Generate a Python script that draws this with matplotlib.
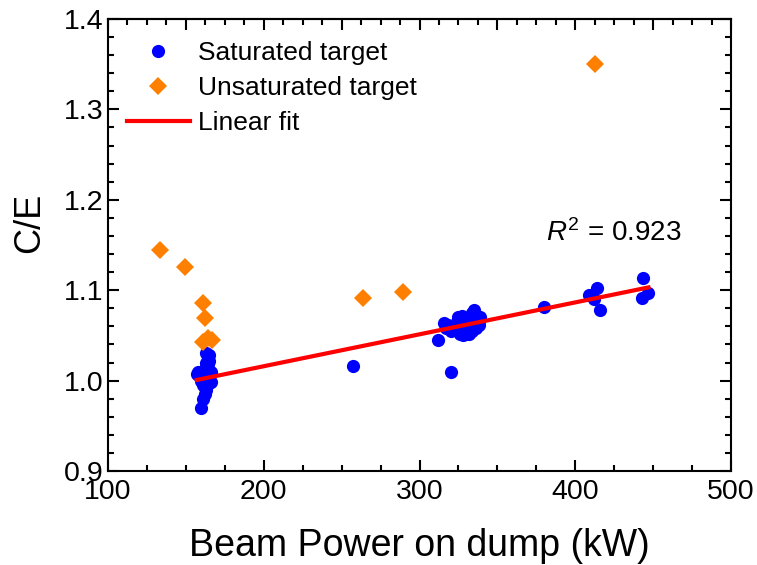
import matplotlib
matplotlib.use('Agg')
import matplotlib.pyplot as plt
from matplotlib.ticker import MultipleLocator

plt.rcParams['font.family'] = ['Liberation Sans', 'DejaVu Sans']
plt.rcParams['mathtext.fontset'] = 'custom'
plt.rcParams['mathtext.rm'] = 'Liberation Sans'
plt.rcParams['mathtext.it'] = 'Liberation Sans:italic'

# saturated target runs
sat_power = [157, 158, 159, 160, 161, 162, 163, 164, 165, 163, 164, 165, 166, 163,
             162, 161, 160, 164, 166, 165, 163, 162, 164,
             257, 320, 312,
             316, 317, 318, 320, 322, 324, 325, 326, 327, 328, 329, 330, 331, 332,
             333, 334, 335, 336, 337, 338, 336, 334, 332, 338, 339, 326, 328, 333,
             380, 409, 413.8, 416, 412, 443.7, 442.6, 446.9]
sat_ce = [1.007, 1.010, 1.004, 1.000, 0.995, 1.012, 1.020, 1.025, 1.028, 1.015, 1.008, 1.002, 0.998, 0.990,
          0.985, 0.980, 0.970, 1.018, 1.010, 1.022, 1.030, 0.993, 0.996,
          1.016, 1.010, 1.045,
          1.064, 1.058, 1.062, 1.055, 1.060, 1.065, 1.070, 1.068, 1.072, 1.060, 1.055, 1.052, 1.058, 1.065,
          1.070, 1.075, 1.078, 1.072, 1.068, 1.062, 1.058, 1.055, 1.052, 1.066, 1.070, 1.052, 1.050, 1.060,
          1.081, 1.095, 1.102, 1.078, 1.090, 1.113, 1.091, 1.097]

# unsaturated target runs
unsat_power = [133.4, 149.4, 161, 162.4, 164.4, 161.2, 166.5, 263.7, 289.4, 413]
unsat_ce = [1.145, 1.126, 1.086, 1.069, 1.047, 1.043, 1.045, 1.091, 1.098, 1.350]

# linear fit of saturated data
fit_slope = 0.000353
fit_intercept = 0.9453
fit_range = [157, 447]
r_squared = 0.923

fig = plt.figure(figsize=(7.57, 5.65), dpi=100)
ax = fig.add_axes([108/757, 1-471/565, 623/757, 452/565])

ax.plot(sat_power, sat_ce, 'o', color='#0000FF', markersize=9.5, markeredgewidth=0,
        label='Saturated target', zorder=3)
ax.plot(unsat_power, unsat_ce, 'D', color='#FF8000', markersize=8.7, markeredgewidth=0,
        label='Unsaturated target', zorder=3)
fit_y = [fit_intercept + fit_slope*x for x in fit_range]
ax.plot(fit_range, fit_y, '-', color='#FF0000', linewidth=3, label='Linear fit', zorder=4)

ax.text(381, 1.163, '$R^2$ = %.3f' % r_squared, fontsize=20, va='center', ha='left')

ax.set_xlim(100, 500)
ax.set_ylim(0.9, 1.4)
ax.xaxis.set_major_locator(MultipleLocator(100))
ax.xaxis.set_minor_locator(MultipleLocator(25))
ax.yaxis.set_major_locator(MultipleLocator(0.1))
ax.yaxis.set_minor_locator(MultipleLocator(0.02))
ax.yaxis.set_major_formatter(plt.FormatStrFormatter('%.1f'))
ax.tick_params(which='both', direction='in', width=1.5, labelsize=20.5, top=False, right=True)
ax.tick_params(which='major', length=8)
ax.tick_params(which='minor', length=4)
ax.tick_params(axis='x', pad=6)
ax.tick_params(axis='y', pad=3)

# top axis carries its own finer tick spacing
top = ax.secondary_xaxis('top')
top.xaxis.set_major_locator(MultipleLocator(50))
top.xaxis.set_minor_locator(MultipleLocator(12.5))
top.tick_params(which='both', direction='in', width=1.5, labeltop=False)
top.tick_params(which='major', length=8)
top.tick_params(which='minor', length=4)
top.spines['top'].set_linewidth(1.5)

for s in ax.spines.values():
    s.set_linewidth(1.5)

ax.set_xlabel('Beam Power on dump (kW)', fontsize=27, labelpad=16)
ax.set_ylabel('C/E', fontsize=26)
ax.yaxis.set_label_coords(-0.098, 0.55)

ax.legend(loc='upper left', bbox_to_anchor=(0.03, 0.951), frameon=False, fontsize=19,
          handlelength=2.4, handletextpad=0.3, labelspacing=0.42, borderpad=0, borderaxespad=0)

fig.savefig('out.png', dpi=100)
